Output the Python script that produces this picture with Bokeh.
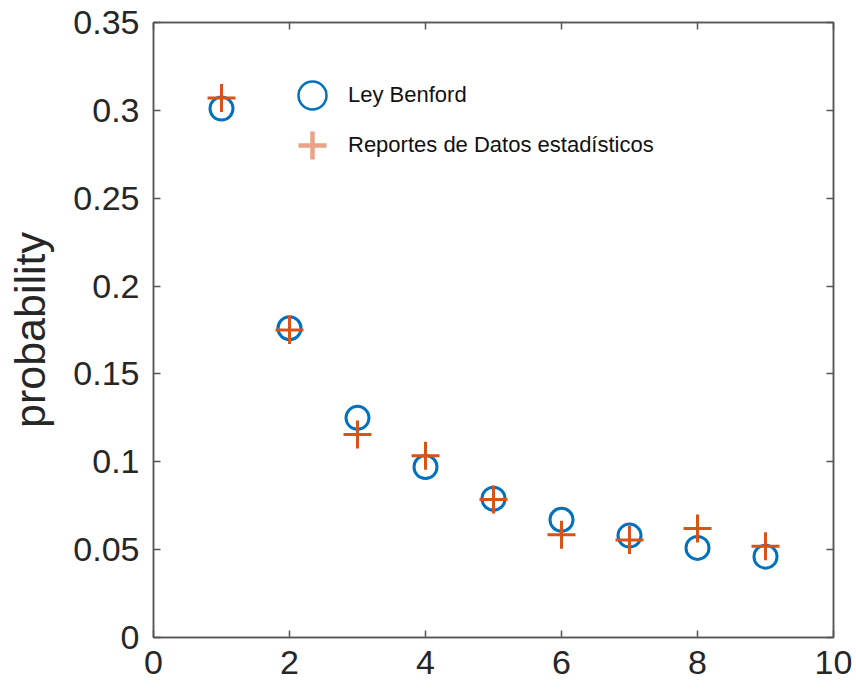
from bokeh.plotting import figure
from bokeh.models import LinearAxis, FixedTicker, Legend, LegendItem, Range1d
from bokeh.embed import file_html
from bokeh.resources import INLINE

digits = [1, 2, 3, 4, 5, 6, 7, 8, 9]
benford = [0.301, 0.176, 0.125, 0.097, 0.079, 0.067, 0.058, 0.051, 0.046]
reportes = [0.307, 0.175, 0.1155, 0.1035, 0.0785, 0.0585, 0.0555, 0.062, 0.052]

x_ticks = [0, 2, 4, 6, 8, 10]
x_tick_labels = ["0", "2", "4", "6", "8", "10"]
y_ticks = [0, 0.05, 0.1, 0.15, 0.2, 0.25, 0.3, 0.35]
y_tick_labels = ["0", "0.05", "0.1", "0.15", "0.2", "0.25", "0.3", "0.35"]

series_names = ["Ley Benford", "Reportes de Datos estadísticos"]
BLUE = "#0072BD"
ORANGE = "#D95319"
FONT = "Liberation Sans"
AXC = "#555555"
TXC = "#262626"
NAN = float("nan")

p = figure(width=856, height=693, output_backend="svg", toolbar_location=None,
           x_range=Range1d(0, 10), y_range=Range1d(0, 0.35),
           min_border_left=153, min_border_right=23, min_border_top=22, min_border_bottom=56)
p.xgrid.visible = False
p.ygrid.visible = False
p.outline_line_color = AXC
p.outline_line_width = 1.5
p.background_fill_color = "white"
p.border_fill_color = "white"

r_b = p.scatter(digits, benford, marker="circle", size=23, fill_color=None,
                line_color=BLUE, line_width=3)
r_r = p.scatter(digits, reportes, marker="cross", size=28,
                line_color=ORANGE, line_width=3)

# legend-only renderers (a single undrawn NaN point each)
l_b = p.scatter(x=[NAN], y=[NAN], marker="circle", fill_color=None, line_color=BLUE, line_width=2.5)
l_r = p.scatter(x=[NAN], y=[NAN], marker="cross", line_color="#EBA285", line_width=4.5)

def style_axis(ax, labels=True):
    ax.axis_line_color = AXC
    ax.axis_line_width = 1.5
    ax.major_tick_line_color = AXC
    ax.major_tick_line_width = 1.5
    ax.major_tick_in = 7
    ax.major_tick_out = 0
    ax.minor_tick_line_color = None
    ax.major_label_text_font = FONT
    if labels:
        ax.major_label_text_color = TXC
        ax.major_label_text_font_size = "34px"
    else:
        ax.major_label_text_color = None
        ax.major_label_standoff = 0

xo = {t: l for t, l in zip(x_ticks, x_tick_labels)}
yo = {t: l for t, l in zip(y_ticks, y_tick_labels)}

xa = p.xaxis[0]
xa.ticker = FixedTicker(ticks=x_ticks)
xa.major_label_overrides = xo
style_axis(xa)
xa.major_label_standoff = 13

ya = p.yaxis[0]
ya.ticker = FixedTicker(ticks=y_ticks)
ya.major_label_overrides = yo
style_axis(ya)
ya.major_label_standoff = 14
ya.axis_label = "probability"
ya.axis_label_text_font = FONT
ya.axis_label_text_font_size = "43px"
ya.axis_label_text_font_style = "normal"
ya.axis_label_text_color = TXC
ya.axis_label_standoff = 16

ra = LinearAxis(ticker=FixedTicker(ticks=y_ticks))
style_axis(ra, labels=False)
p.add_layout(ra, "right")
ta = LinearAxis(ticker=FixedTicker(ticks=x_ticks))
style_axis(ta, labels=False)
p.add_layout(ta, "above")

common = dict(glyph_width=70, glyph_height=70, label_standoff=1, padding=0, margin=0,
              label_text_font=FONT, label_text_font_size="22px", label_text_color="#111111",
              border_line_alpha=0, background_fill_alpha=0)
leg1 = Legend(items=[LegendItem(label=series_names[0], renderers=[l_b])],
              location=(124, 507), **common)
leg2 = Legend(items=[LegendItem(label=series_names[1], renderers=[l_r])],
              location=(124, 457), **common)
p.add_layout(leg1)
p.add_layout(leg2)

open("out.html", "w").write(file_html(p, INLINE))
